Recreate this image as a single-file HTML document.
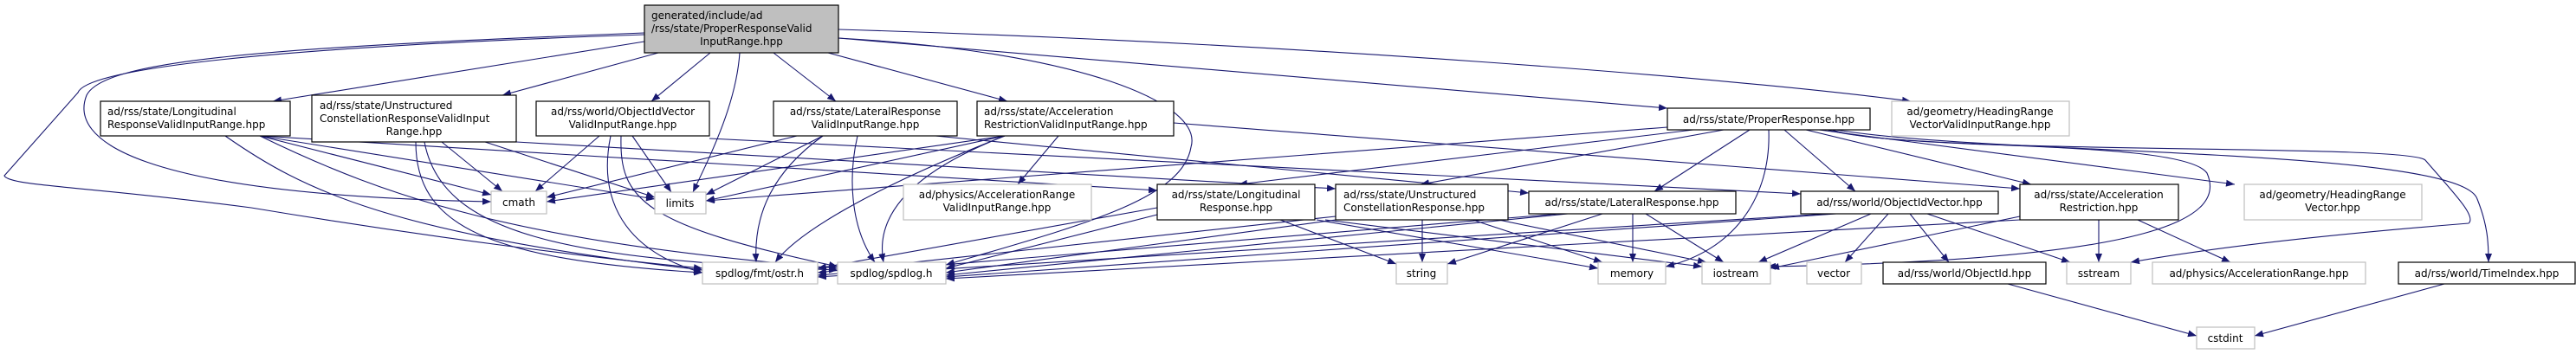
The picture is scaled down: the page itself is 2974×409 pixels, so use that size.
<!DOCTYPE html>
<html><head><meta charset="utf-8"><style>
html,body{margin:0;padding:0;background:#fff;}
svg{display:block;}
text{font-family:"DejaVu Sans","Liberation Sans",sans-serif;font-size:12px;fill:#000;}
.e{fill:none;stroke:#191970;stroke-width:1.1;}
.b{fill:#fff;stroke:#000;stroke-width:1.2;}
.g{fill:#fff;stroke:#bfbfbf;stroke-width:1.2;}
</style></head><body>
<svg width="2974" height="409" viewBox="0 0 2974 409" xmlns="http://www.w3.org/2000/svg">
<defs><marker id="a" viewBox="0 0 10 8" refX="10" refY="4" markerWidth="10" markerHeight="8" markerUnits="userSpaceOnUse" orient="auto"><path d="M0,0L10,4L0,8z" fill="#191970"/></marker></defs>
<g marker-end="url(#a)">
<path class="e" d="M744,48L315,117"/>
<path class="e" d="M760,61L580,110"/>
<path class="e" d="M820,61L752,117"/>
<path class="e" d="M854,61C850,120 820,180 800,222"/>
<path class="e" d="M893,61L965,117"/>
<path class="e" d="M956,61L1163,117"/>
<path class="e" d="M744,38C300,55 120,70 100,110C80,160 150,225 567,233"/>
<path class="e" d="M744,40C300,55 100,80 90,107L5,203C10,215 100,215 290,240C500,275 700,300 811,310"/>
<path class="e" d="M968,44C1250,60 1390,120 1375,170C1365,230 1250,260 1092,306"/>
<path class="e" d="M968,44L1925,125"/>
<path class="e" d="M968,34C1500,50 2000,90 2206,117"/>

<path class="e" d="M300,157L567,225"/>
<path class="e" d="M300,157L756,230"/>
<path class="e" d="M300,157L1336,220"/>
<path class="e" d="M260,157C350,220 450,270 811,312"/>
<path class="e" d="M300,157C450,230 600,280 967,310"/>

<path class="e" d="M510,164L580,221"/>
<path class="e" d="M560,164L756,228"/>
<path class="e" d="M596,164L1542,218"/>
<path class="e" d="M480,164C480,260 560,300 811,315"/>
<path class="e" d="M490,164C510,270 650,300 967,312"/>

<path class="e" d="M692,157L618,221"/>
<path class="e" d="M730,157L775,222"/>
<path class="e" d="M819,160L2079,224"/>
<path class="e" d="M705,157C690,230 720,290 811,315"/>
<path class="e" d="M717,157C715,230 740,260 967,308"/>

<path class="e" d="M920,157L631,228"/>
<path class="e" d="M950,157L815,225"/>
<path class="e" d="M1080,157L1765,223"/>
<path class="e" d="M950,157C890,200 870,250 873,303"/>
<path class="e" d="M990,157C980,200 980,260 1010,303"/>

<path class="e" d="M1160,157L631,233"/>
<path class="e" d="M1160,157L815,232"/>
<path class="e" d="M1222,157L1175,213"/>
<path class="e" d="M1355,142L2332,218"/>
<path class="e" d="M1160,157C1000,220 920,270 895,303"/>
<path class="e" d="M1160,157C1050,200 1010,250 1020,303"/>

<path class="e" d="M1925,147L815,232"/>
<path class="e" d="M1955,150L1430,213"/>
<path class="e" d="M1990,150L1640,213"/>
<path class="e" d="M2020,150L1910,221"/>
<path class="e" d="M2060,150L2142,221"/>
<path class="e" d="M2042,150C2045,230 2000,290 1923,308"/>
<path class="e" d="M2085,150L2345,213"/>
<path class="e" d="M2100,150L2580,213"/>
<path class="e" d="M2110,150C2200,175 2520,160 2548,200C2570,250 2500,300 2040,308"/>
<path class="e" d="M2115,150C2200,180 2780,165 2800,185C2830,220 2860,250 2850,258C2700,270 2560,285 2460,303"/>
<path class="e" d="M2120,150C2300,180 2840,170 2860,230C2872,260 2873,280 2873,303"/>

<path class="e" d="M1336,248L1092,310"/>
<path class="e" d="M1336,240L944,310"/>
<path class="e" d="M1478,254L1612,305"/>
<path class="e" d="M1520,254L1845,310"/>
<path class="e" d="M1530,254L1965,308"/>

<path class="e" d="M1642,254L1642,303"/>
<path class="e" d="M1700,254L1850,303"/>
<path class="e" d="M1730,254L1970,303"/>
<path class="e" d="M1542,250L944,315"/>
<path class="e" d="M1542,254L1092,315"/>

<path class="e" d="M1850,247L1671,305"/>
<path class="e" d="M1885,247L1885,303"/>
<path class="e" d="M1900,247L1990,303"/>
<path class="e" d="M1800,247L944,318"/>
<path class="e" d="M1810,247L1092,318"/>

<path class="e" d="M2180,247L2130,303"/>
<path class="e" d="M2205,247L2250,303"/>
<path class="e" d="M2225,247L2390,303"/>
<path class="e" d="M2160,247L2030,303"/>
<path class="e" d="M2110,247L944,320"/>
<path class="e" d="M2120,247L1092,320"/>

<path class="e" d="M2423,254L2423,303"/>
<path class="e" d="M2468,254L2575,303"/>
<path class="e" d="M2332,250L2044,310"/>
<path class="e" d="M2332,254L1092,322"/>

<path class="e" d="M2318,328L2536,388"/>
<path class="e" d="M2822,328L2603,388"/>
</g>

<rect x="744" y="6" width="224" height="55" fill="#bfbfbf" stroke="#000" stroke-width="1.2"/>
<text x="752" y="22">generated/include/ad</text>
<text x="752" y="37">/rss/state/ProperResponseValid</text>
<text x="856" y="52" text-anchor="middle">InputRange.hpp</text>

<rect class="b" x="116" y="117" width="219" height="40"/>
<text x="124" y="133">ad/rss/state/Longitudinal</text>
<text x="124" y="148">ResponseValidInputRange.hpp</text>

<rect class="b" x="360" y="110" width="236" height="54"/>
<text x="369" y="126">ad/rss/state/Unstructured</text>
<text x="369" y="141">ConstellationResponseValidInput</text>
<text x="478" y="156" text-anchor="middle">Range.hpp</text>

<rect class="b" x="619" y="117" width="200" height="40"/>
<text x="719" y="133" text-anchor="middle">ad/rss/world/ObjectIdVector</text>
<text x="719" y="148" text-anchor="middle">ValidInputRange.hpp</text>

<rect class="b" x="893" y="117" width="212" height="40"/>
<text x="999" y="133" text-anchor="middle">ad/rss/state/LateralResponse</text>
<text x="999" y="148" text-anchor="middle">ValidInputRange.hpp</text>

<rect class="b" x="1128" y="117" width="227" height="40"/>
<text x="1136" y="133">ad/rss/state/Acceleration</text>
<text x="1136" y="148">RestrictionValidInputRange.hpp</text>

<rect class="b" x="1925" y="125" width="234" height="25"/>
<text x="2042" y="142" text-anchor="middle">ad/rss/state/ProperResponse.hpp</text>

<rect class="g" x="2184" y="117" width="205" height="40"/>
<text x="2286" y="133" text-anchor="middle">ad/geometry/HeadingRange</text>
<text x="2286" y="148" text-anchor="middle">VectorValidInputRange.hpp</text>

<rect class="g" x="567" y="221" width="64" height="26"/>
<text x="599" y="238" text-anchor="middle">cmath</text>

<rect class="g" x="756" y="222" width="59" height="25"/>
<text x="785" y="239" text-anchor="middle">limits</text>

<rect class="g" x="1043" y="213" width="217" height="41"/>
<text x="1151" y="229" text-anchor="middle">ad/physics/AccelerationRange</text>
<text x="1151" y="244" text-anchor="middle">ValidInputRange.hpp</text>

<rect class="b" x="1336" y="213" width="182" height="41"/>
<text x="1427" y="229" text-anchor="middle">ad/rss/state/Longitudinal</text>
<text x="1427" y="244" text-anchor="middle">Response.hpp</text>

<rect class="b" x="1542" y="213" width="199" height="41"/>
<text x="1551" y="229">ad/rss/state/Unstructured</text>
<text x="1551" y="244">ConstellationResponse.hpp</text>

<rect class="b" x="1765" y="221" width="239" height="26"/>
<text x="1884" y="238" text-anchor="middle">ad/rss/state/LateralResponse.hpp</text>

<rect class="b" x="2079" y="221" width="228" height="26"/>
<text x="2193" y="238" text-anchor="middle">ad/rss/world/ObjectIdVector.hpp</text>

<rect class="b" x="2332" y="213" width="183" height="41"/>
<text x="2423" y="229" text-anchor="middle">ad/rss/state/Acceleration</text>
<text x="2423" y="244" text-anchor="middle">Restriction.hpp</text>

<rect class="g" x="2591" y="213" width="205" height="41"/>
<text x="2693" y="229" text-anchor="middle">ad/geometry/HeadingRange</text>
<text x="2693" y="244" text-anchor="middle">Vector.hpp</text>

<rect class="g" x="811" y="303" width="133" height="25"/>
<text x="877" y="320" text-anchor="middle">spdlog/fmt/ostr.h</text>
<rect class="g" x="967" y="303" width="125" height="25"/>
<text x="1029" y="320" text-anchor="middle">spdlog/spdlog.h</text>
<rect class="g" x="1612" y="303" width="59" height="25"/>
<text x="1641" y="320" text-anchor="middle">string</text>
<rect class="g" x="1845" y="303" width="78" height="25"/>
<text x="1884" y="320" text-anchor="middle">memory</text>
<rect class="g" x="1965" y="303" width="79" height="25"/>
<text x="2004" y="320" text-anchor="middle">iostream</text>
<rect class="g" x="2086" y="303" width="63" height="25"/>
<text x="2117" y="320" text-anchor="middle">vector</text>
<rect class="b" x="2174" y="303" width="188" height="25"/>
<text x="2268" y="320" text-anchor="middle">ad/rss/world/ObjectId.hpp</text>
<rect class="g" x="2386" y="303" width="74" height="25"/>
<text x="2423" y="320" text-anchor="middle">sstream</text>
<rect class="g" x="2485" y="303" width="246" height="25"/>
<text x="2608" y="320" text-anchor="middle">ad/physics/AccelerationRange.hpp</text>
<rect class="b" x="2769" y="303" width="204" height="25"/>
<text x="2871" y="320" text-anchor="middle">ad/rss/world/TimeIndex.hpp</text>
<rect class="g" x="2536" y="378" width="67" height="25"/>
<text x="2569" y="395" text-anchor="middle">cstdint</text>
</svg>
</body></html>
